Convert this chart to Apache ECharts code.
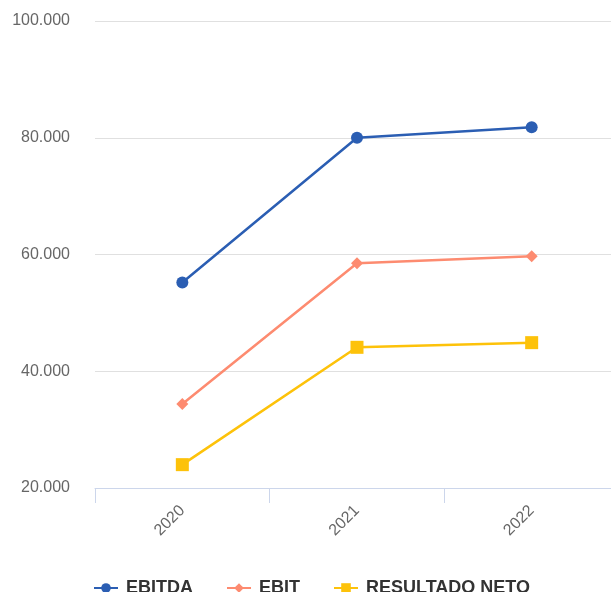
<!DOCTYPE html>
<html>
<head>
<meta charset="utf-8">
<script src="https://cdn.jsdelivr.net/npm/echarts@6/dist/echarts.min.js"></script>
<style>html,body{margin:0;padding:0;background:#fff;overflow:hidden}#main{width:619px;height:592px}</style>
</head>
<body>
<div id="main"></div>
<script>
// EBITDA / EBIT / Resultado neto por año
var myChart = echarts.init(document.getElementById('main'));
var years = ['2020', '2021', '2022'];
var ebitda = [55200, 80000, 81800];
var ebit = [34400, 58500, 59700];
var resultadoNeto = [24000, 44100, 44900];
var legendData = ['EBITDA', 'EBIT', 'RESULTADO NETO'];
var colors = ['#2b5eb3', '#fd8b70', '#fdc20a'];

function fmt(v) {
    return String(v).replace(/\B(?=(\d{3})+(?!\d))/g, '.');
}

var option = {
    backgroundColor: '#fff',
    color: colors,
    animation: false,
    grid: {left: 95, right: 0, top: 21, bottom: 104, containLabel: false},
    legend: {
        data: legendData, left: 88, top: 574,
        itemWidth: 24, itemHeight: 12, itemGap: 33,
        textStyle: {color: '#333', fontSize: 18, fontWeight: 'bold', fontFamily: 'Liberation Sans, Arial', padding: [0, 0, 0, 3]}
    },
    xAxis: {
        type: 'category',
        data: years,
        axisLine: {show: true, lineStyle: {color: '#ccd6eb', width: 1}},
        axisTick: {show: true, length: 15, lineStyle: {color: '#ccd6eb'}},
        axisLabel: {rotate: 45, margin: 20, color: '#666', fontSize: 16, fontFamily: 'Liberation Sans, Arial'}
    },
    yAxis: {
        type: 'value',
        min: 20000, max: 100000, interval: 20000,
        axisLine: {show: false},
        axisTick: {show: false},
        splitLine: {lineStyle: {color: '#e0e0e0'}},
        axisLabel: {margin: 25, color: '#666', fontSize: 16, fontFamily: 'Liberation Sans, Arial', formatter: fmt}
    },
    series: [
        {name: 'EBITDA', type: 'line', symbol: 'circle', symbolSize: 12, lineStyle: {width: 2.5}, data: ebitda},
        {name: 'EBIT', type: 'line', symbol: 'diamond', symbolSize: 12, lineStyle: {width: 2.5}, data: ebit},
        {name: 'RESULTADO NETO', type: 'line', symbol: 'rect', symbolSize: 13, lineStyle: {width: 2.5}, data: resultadoNeto}
    ]
};

myChart.setOption(option);
</script>
</body>
</html>
